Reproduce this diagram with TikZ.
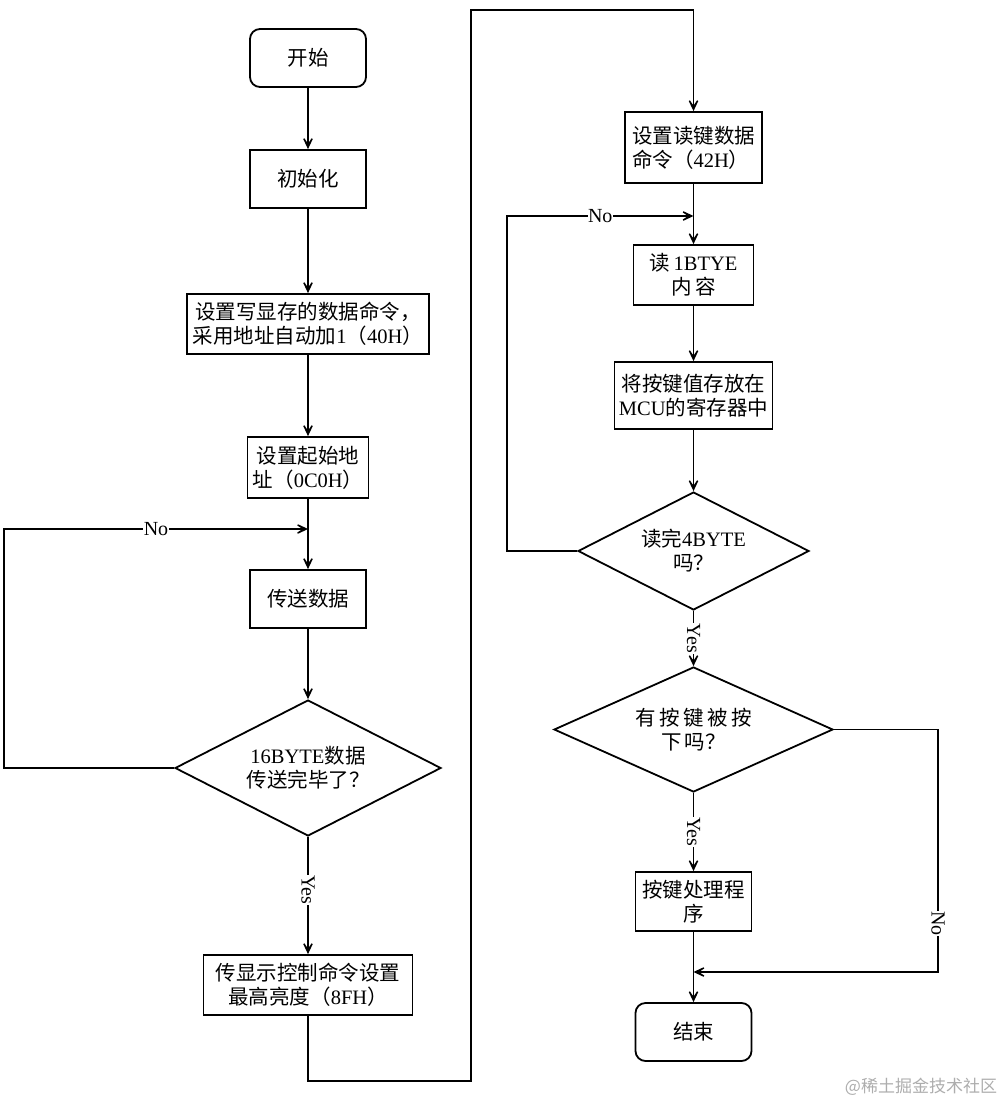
\documentclass[tikz,border=0pt]{standalone}
\usepackage{fontspec}
\setmainfont{Liberation Serif}
\newfontfamily\cjk{Noto Sans CJK SC}
\usetikzlibrary{arrows.meta,shapes.geometric}
\newcommand\zh[1]{{\cjk #1}}
\begin{document}
\begin{tikzpicture}[x=1pt,y=-1pt,
  line width=1.8pt,
  font=\fontsize{20.5}{24}\selectfont,
  box/.style 2 args={draw, rectangle, align=center, inner sep=1pt,
    minimum width=#1pt, minimum height=#2pt},
  term/.style 2 args={box={#1}{#2}, rounded corners=10pt},
  dia/.style n args={3}{draw, diamond, align=center, inner sep=0pt, aspect=#3,
    minimum width=#1pt, minimum height=#2pt},
  arr/.style={-{Stealth[length=18pt,width=17pt,inset=12.5pt]}},
  lbl/.style={fill=white, inner sep=0.5pt, font=\fontsize{20}{20}\selectfont}
]
\useasboundingbox (0,0) rectangle (1006,1106);

% left column
\node[term={116}{58}] (start) at (308,58) {\zh{开始}};
\node[box={116}{58}] (init) at (308,179) {\zh{初始化}};
\node[box={242}{60}] (cmd) at (308,324) {\zh{设置写显存的数据命令，}\\\zh{采用地址自动加}1\zh{（}40H\zh{）}};
\node[box={121}{61}] (addr) at (308,467.5) {\zh{设置起始地}\\\zh{址（}0C0H\zh{）}};
\node[box={116}{58}] (send) at (308,599) {\zh{传送数据}};
\node[dia={266}{136}{1.96}] (d1) at (308,768) {16BYTE\zh{数据}\\\zh{传送完毕了？}};
\node[box={209}{60}] (bright) at (308,985) {\zh{传显示控制命令设置}\\\zh{最高亮度（}8FH\zh{）}};

% right column
\node[box={137}{71}, align=left] (rk) at (693.5,147.5) {\zh{设置读键数据}\\\zh{命令（}42H\zh{）}};
\node[box={120}{60}] (rd) at (693.5,275) {\zh{读}\,1BTYE\\\zh{内\,容}};
\node[box={158}{67}] (store) at (693.5,395.5) {\zh{将按键值存放在}\\MCU\zh{的寄存器中}};
\node[dia={231}{118}{1.96}] (d2) at (693.5,551) {\zh{读完}4BYTE\\\zh{吗？}};
\node[dia={279}{125}{2.23}] (d3) at (693.5,729.5) {\zh{有\,按\,键\,被\,按}\\\zh{下\,吗？}};
\node[box={116}{59}] (proc) at (693.5,901.5) {\zh{按键处理程}\\\zh{序}};
\node[term={116}{58}] (end) at (693.5,1032) {\zh{结束}};

% helper coordinates
\coordinate (j1) at (308,529);
\coordinate (L1) at (4,529);
\coordinate (B) at (471,1081);
\coordinate (T) at (471,10);
\coordinate (j2) at (693.5,216);
\coordinate (L2) at (507,216);
\coordinate (R3) at (938,972);
\coordinate (j3) at (693.5,972);

% left connectors
\draw[arr] (start) -- (init);
\draw[arr] (init) -- (cmd);
\draw[arr] (cmd) -- (addr);
\draw[arr] (addr) -- (send);
\draw[arr] (send) -- (d1);
\draw[arr] (d1.west) -- (d1.west -| L1) -- (L1) -- node[lbl]{No} (j1);
\draw[arr] (d1.south) -- node[lbl, sloped, pos=0.45]{Yes} (bright.north);
\draw[arr] (bright.south) -- (bright.south |- B) -- (B) -- (T) -- (T -| rk.north) -- (rk.north);

% right connectors
\draw[arr] (rk) -- (rd);
\draw[arr] (rd) -- (store);
\draw[arr] (store) -- (d2);
\draw[arr] (d2.west) -- (d2.west -| L2) -- (L2) -- node[lbl]{No} (j2);
\draw[arr] (d2.south) -- node[lbl, sloped]{Yes} (d3.north);
\draw[arr] (d3.south) -- node[lbl, sloped]{Yes} (proc.north);
\draw[arr] (proc) -- (end);
\draw[arr] (d3.east) -- (d3.east -| R3) -- node[lbl, sloped, pos=0.8]{No} (R3) -- (j3);

% watermark text
\node[text=black!32, font=\cjk\fontsize{17}{17}\selectfont] (wm) at (921,1087) {@稀土掘金技术社区};
\end{tikzpicture}
\end{document}
